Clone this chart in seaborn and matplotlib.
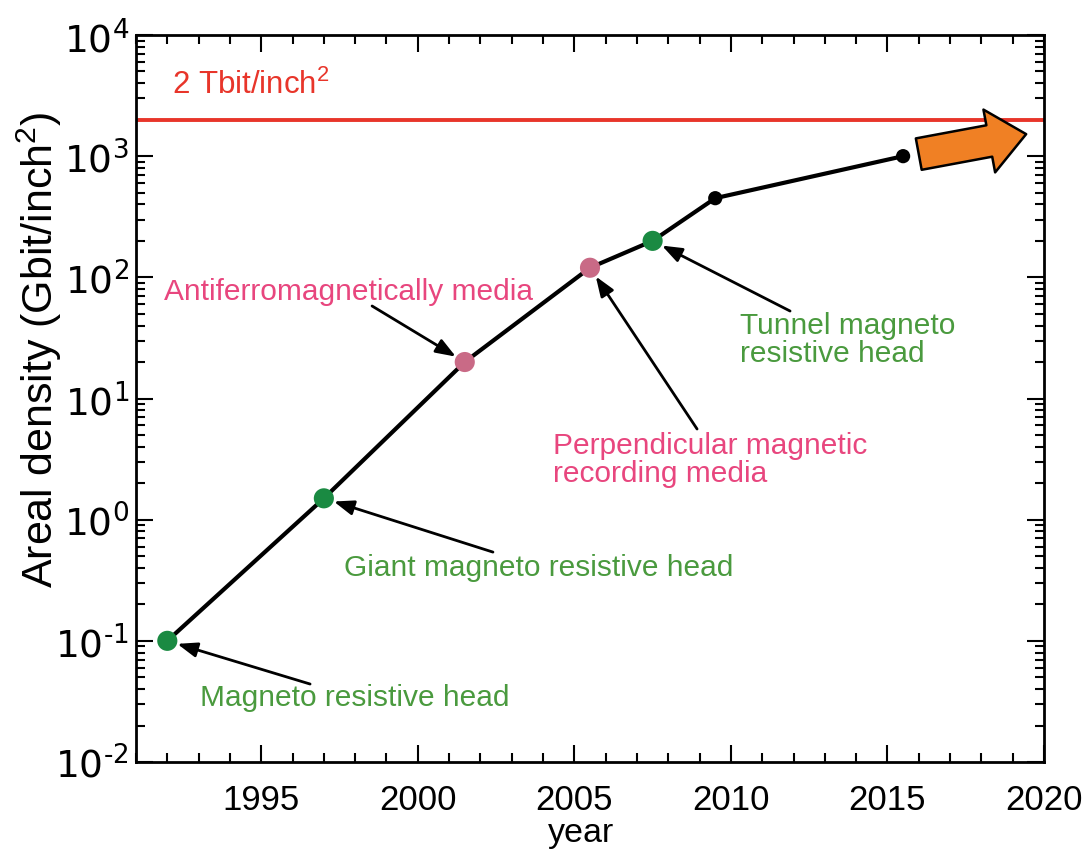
import matplotlib
matplotlib.use("Agg")
import matplotlib.pyplot as plt
import matplotlib.ticker as mticker
import numpy as np
import pandas as pd
import seaborn as sns

# Milestones in hard-disk areal density
years = [1992, 1997, 2001.5, 2005.5, 2007.5, 2009.5, 2015.5]
density = [0.1, 1.5, 20, 120, 200, 450, 1000]          # Gbit/inch^2
kind = ["head", "head", "media", "media", "head", "other", "other"]
year_ticks = [1995, 2000, 2005, 2010, 2015, 2020]
decade_ticks = [1e-2, 1e-1, 1e0, 1e1, 1e2, 1e3, 1e4]

target_density = 2000                                   # 2 Tbit/inch^2
trend_from = (2016, 1040)
trend_to = (2019.43, 1520)

labels = [
    # text, text position, arrow start, index of milestone, colour key, alignment
    ("Magneto resistive head", (1998.0, 0.0344), (1996.56, 0.044), 0, "head", "center"),
    ("Giant magneto resistive head", (2003.87, 0.406), (2002.4, 0.54), 1, "head", "center"),
    ("Antiferromagnetically media", (1997.8, 77), (1998.54, 58), 2, "media", "center"),
    ("Perpendicular magnetic\nrecording media", (2004.32, 3.17), (2008.92, 5.6), 3, "media", "left"),
    ("Tunnel magneto\nresistive head", (2010.29, 31), (2011.89, 52.7), 4, "head", "left"),
]

marker_colors = {"head": "#1a8a42", "media": "#c96a86", "other": "black"}
text_colors = {"head": "#4a9a3e", "media": "#e8467e"}
marker_sizes = {"head": 210, "media": 210, "other": 105}

df = pd.DataFrame({"year": years, "density": density, "kind": kind})

sns.set_style("ticks")
plt.rcParams["font.family"] = ["Liberation Sans", "DejaVu Sans"]
plt.rcParams["mathtext.default"] = "regular"
plt.rcParams["axes.unicode_minus"] = False
for key in ("text.color", "axes.labelcolor", "xtick.color", "ytick.color", "axes.edgecolor"):
    plt.rcParams[key] = "black"

fig = plt.figure(figsize=(10.92, 8.53), dpi=100)
ax = fig.add_axes([136 / 1092, 90 / 853, 908 / 1092, 727 / 853])

sns.lineplot(data=df, x="year", y="density", color="black", lw=3.0,
             ax=ax, zorder=3, legend=False)
sns.scatterplot(data=df, x="year", y="density", hue="kind", palette=marker_colors,
                size="kind", sizes=marker_sizes, edgecolor="none",
                ax=ax, zorder=4, legend=False)

ax.set_yscale("log")
ax.set_xlim(1991, 2020)
ax.set_ylim(1e-2, 1e4)

ax.axhline(target_density, color="#e8352a", lw=2.8, zorder=2)
ax.text(1992.15, 3950, r"2 Tbit/inch$^{2}$", color="#e8352a", fontsize=22.5,
        ha="left", va="center")

# Fat orange arrow pointing beyond the current density
ax.annotate("", xy=trend_to, xytext=trend_from,
            arrowprops=dict(arrowstyle="simple,head_length=27,head_width=46,tail_width=23",
                            mutation_scale=1, fc="#f08024", ec="black", lw=1.8,
                            shrinkA=0, shrinkB=0),
            zorder=5)

for text, txy, start, idx, key, ha in labels:
    ax.text(txy[0], txy[1], text, color=text_colors[key], fontsize=21.5,
            ha=ha, va="center", linespacing=1.0, zorder=6)
    ax.annotate("", xy=(years[idx], density[idx]), xytext=start,
                arrowprops=dict(arrowstyle="-|>,head_length=0.75,head_width=0.28",
                                mutation_scale=16, color="black", lw=2.0,
                                shrinkA=0, shrinkB=7.5),
                zorder=5)

# Axes frame and ticks
for sp in ax.spines.values():
    sp.set_visible(True)
    sp.set_linewidth(2.0)
    sp.set_color("black")


def decade_label(v, pos):
    exp = int(round(np.log10(v)))
    exp_txt = str(exp).replace("-", "\u2010")
    return r"$\mathregular{10^{%s}}$" % exp_txt


ax.xaxis.set_major_locator(mticker.FixedLocator(year_ticks))
ax.xaxis.set_minor_locator(mticker.MultipleLocator(1))
ax.xaxis.set_major_formatter(mticker.FuncFormatter(lambda v, p: f"{int(round(v))}"))
ax.yaxis.set_major_locator(mticker.FixedLocator(decade_ticks))
ax.yaxis.set_minor_locator(mticker.LogLocator(base=10, subs=np.arange(2, 10), numticks=20))
ax.yaxis.set_minor_formatter(mticker.NullFormatter())
ax.yaxis.set_major_formatter(mticker.FuncFormatter(decade_label))

ax.tick_params(which="both", direction="in", top=True, right=True, width=1.5, color="black")
ax.tick_params(which="major", length=12)
ax.tick_params(which="minor", length=6.5)
ax.tick_params(axis="x", which="major", pad=15)
ax.tick_params(axis="y", which="major", pad=5)

for lab in ax.get_xticklabels():
    lab.set_fontsize(25)
for lab in ax.get_yticklabels():
    lab.set_fontfamily(["DejaVu Sans"])
    lab.set_fontsize(27)

ax.set_xlabel("year", fontsize=24.5)
ax.set_ylabel(r"Areal density (Gbit/inch$^{2}$)", fontsize=31)
ax.xaxis.set_label_coords(0.49, -0.097)
ax.xaxis.label.set_va("center")
ax.yaxis.set_label_coords(-0.106, 0.568)
ax.yaxis.label.set_va("center")

fig.savefig("out.png", dpi=100, facecolor="white")
